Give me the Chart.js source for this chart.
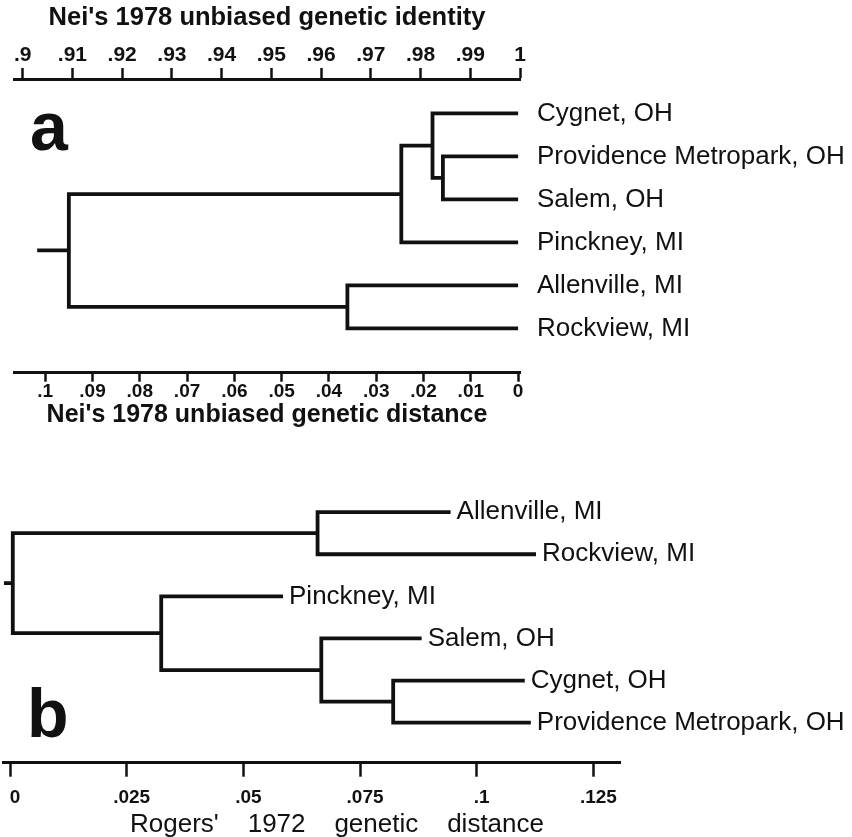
<!DOCTYPE html>
<html>
<head>
<meta charset="utf-8">
<script src="https://cdn.jsdelivr.net/npm/chart.js@4"></script>
<style>
  html, body { margin: 0; padding: 0; background: #fff; }
  #wrap { position: relative; width: 852px; height: 837px; }
  .panel { position: absolute; left: 0; width: 852px; }
  #panelA { top: 0; height: 440px; }
  #panelB { top: 470px; height: 367px; }
</style>
</head>
<body>
<div id="wrap">
  <div class="panel" id="panelA"><canvas id="chartA"></canvas></div>
  <div class="panel" id="panelB"><canvas id="chartB"></canvas></div>
</div>
<script>
// ---- panel a: Nei's 1978 unbiased distance (UPGMA) ----
const leavesA = ['Cygnet, OH', 'Providence Metropark, OH', 'Salem, OH', 'Pinckney, MI', 'Allenville, MI', 'Rockview, MI'];
const leafDistA = [0, 0, 0, 0, 0, 0];
// each join: two children (leaf index or earlier join name) and where they meet
const joinNamesA = ['PS', 'CPS', 'OHP', 'AR', 'root'];
const joinKidsA = [[1, 2], [0, 'PS'], ['CPS', 3], [4, 5], ['OHP', 'AR']];
const joinDistA = [0.0159, 0.0181, 0.0247, 0.0361, 0.0950];
const rootStubA = 0.1017;
const distTicksA = [0.1, 0.09, 0.08, 0.07, 0.06, 0.05, 0.04, 0.03, 0.02, 0.01, 0];
const distLabelsA = ['.1', '.09', '.08', '.07', '.06', '.05', '.04', '.03', '.02', '.01', '0'];
const identTicksA = [0.9, 0.91, 0.92, 0.93, 0.94, 0.95, 0.96, 0.97, 0.98, 0.99, 1];
const identLabelsA = ['.9', '.91', '.92', '.93', '.94', '.95', '.96', '.97', '.98', '.99', '1'];

// ---- panel b: Rogers' 1972 distance ----
const leavesB = ['Allenville, MI', 'Rockview, MI', 'Pinckney, MI', 'Salem, OH', 'Cygnet, OH', 'Providence Metropark, OH'];
const leafDistB = [0.0944, 0.1127, 0.0585, 0.0882, 0.1103, 0.1116];
const joinNamesB = ['CP', 'SCP', 'PSCP', 'AR', 'root'];
const joinKidsB = [[4, 5], [3, 'CP'], [2, 'SCP'], [0, 1], ['AR', 'PSCP']];
const joinDistB = [0.0821, 0.0667, 0.0324, 0.0659, 0.0006];
const rootStubB = -0.0013;
const rogersTicks = [0, 0.025, 0.05, 0.075, 0.1, 0.125];
const rogersLabels = ['0', '.025', '.05', '.075', '.1', '.125'];

const ink = '#111';
const FONT = "'Liberation Sans', Arial, Helvetica, sans-serif";

// turn the joins into one broken polyline (null y = gap)
function treePoints(kids, dists, names, leafX, stub) {
    const pos = {};
    const pts = [];
    const place = k => typeof k === 'number' ? { x: leafX[k], y: k } : pos[k];
    kids.forEach((pair, i) => {
        const a = place(pair[0]), b = place(pair[1]);
        const h = dists[i];
        pts.push({ x: a.x, y: a.y }, { x: h, y: a.y }, { x: h, y: b.y }, { x: b.x, y: b.y }, { x: h, y: null });
        pos[names[i]] = { x: h, y: (a.y + b.y) / 2 };
    });
    const r = pos[names[names.length - 1]];
    pts.push({ x: r.x, y: r.y }, { x: stub, y: r.y });
    return pts;
}

function fixedTicks(list) {
    return s => { s.ticks = list.map(v => ({ value: v })); };
}

// fixed axis height, and no extra side padding for edge labels
function fitHeight(h) {
    return s => { s.height = h; s.paddingLeft = 0; s.paddingRight = 0; };
}

function bigLetter(letter, x, y) {
    return {
        id: 'letter' + letter,
        afterDraw(chart) {
            const ctx = chart.ctx;
            ctx.save();
            ctx.fillStyle = ink;
            ctx.font = 'bold 68px ' + FONT;
            ctx.textBaseline = 'alphabetic';
            ctx.fillText(letter, x, y);
            ctx.restore();
        }
    };
}

const treeStyle = {
    borderColor: ink,
    borderWidth: 3.8,
    pointRadius: 0,
    showLine: true,
    tension: 0,
    borderJoinStyle: 'miter',
    borderCapStyle: 'butt',
    spanGaps: false
};

// ---------- chart a ----------
new Chart(document.getElementById('chartA').getContext('2d'), {
    type: 'scatter',
    data: {
        datasets: [Object.assign({
            data: treePoints(joinKidsA, joinDistA, joinNamesA, leafDistA, rootStubA)
        }, treeStyle)]
    },
    options: {
        responsive: true,
        maintainAspectRatio: false,
        animation: false,
        layout: { padding: { left: 14, right: 0, top: 0, bottom: 0 } },
        plugins: { legend: { display: false }, tooltip: { enabled: false } },
        scales: {
            x: {
                type: 'linear', position: 'bottom', reverse: true,
                min: -0.0004, max: 0.1066,
                afterBuildTicks: fixedTicks(distTicksA),
                afterFit: fitHeight(67.3),
                border: { display: true, width: 3, color: ink },
                grid: { drawOnChartArea: false, tickLength: 9, tickWidth: 2.5, tickColor: ink },
                ticks: {
                    autoSkip: false, maxRotation: 0, padding: -1, color: ink,
                    font: { family: FONT, size: 19, weight: 'bold' },
                    callback: (v, i) => distLabelsA[i]
                },
                title: {
                    display: true, text: "Nei's 1978 unbiased genetic distance", color: ink,
                    font: { family: FONT, size: 25, weight: 'bold' },
                    padding: { top: 0, bottom: 10 }
                }
            },
            xt: {
                type: 'linear', position: 'top',
                min: 0.89825, max: 1,
                afterBuildTicks: fixedTicks(identTicksA),
                afterFit: fitHeight(79),
                border: { display: true, width: 3, color: ink },
                grid: { drawOnChartArea: false, tickLength: 11, tickWidth: 2.5, tickColor: ink },
                ticks: {
                    autoSkip: false, maxRotation: 0, padding: 0, color: ink,
                    font: { family: FONT, size: 21, weight: 'bold' },
                    callback: (v, i) => identLabelsA[i]
                },
                title: {
                    display: true, text: "Nei's 1978 unbiased genetic identity", color: ink,
                    font: { family: FONT, size: 25.5, weight: 'bold' },
                    padding: { top: 3, bottom: 0 }
                }
            },
            y: {
                type: 'linear', position: 'right', reverse: true,
                min: -0.8, max: 6.03,
                afterBuildTicks: fixedTicks(leavesA.map((n, i) => i)),
                afterFit: s => { s.width = 332; },
                border: { display: false },
                grid: { display: false, drawTicks: false },
                ticks: {
                    autoSkip: false, padding: 17, color: ink,
                    font: { family: FONT, size: 26 },
                    callback: v => leavesA[v]
                }
            }
        }
    },
    plugins: [bigLetter('a', 30, 150)]
});

// ---------- chart b ----------
const leafLabelsB = {
    id: 'leafLabelsB',
    afterDatasetsDraw(chart) {
        const ctx = chart.ctx;
        const xs = chart.scales.x, ys = chart.scales.y;
        ctx.save();
        ctx.fillStyle = ink;
        ctx.font = '26px ' + FONT;
        ctx.textBaseline = 'middle';
        leavesB.forEach((name, i) => {
            ctx.fillText(name, xs.getPixelForValue(leafDistB[i]) + 6, ys.getPixelForValue(i));
        });
        ctx.restore();
    }
};

// axis caption of panel b sits left of centre, so draw it here
const rogersCaption = {
    id: 'rogersCaption',
    afterDraw(chart) {
        const ctx = chart.ctx;
        ctx.save();
        ctx.fillStyle = ink;
        ctx.font = '26px ' + FONT;
        ctx.textBaseline = 'middle';
        ctx.fillText("Rogers'    1972    genetic    distance", 130, 355);
        ctx.restore();
    }
};

new Chart(document.getElementById('chartB').getContext('2d'), {
    type: 'scatter',
    data: {
        datasets: [Object.assign({
            data: treePoints(joinKidsB, joinDistB, joinNamesB, leafDistB, rootStubB),
            clip: false
        }, treeStyle)]
    },
    options: {
        responsive: true,
        maintainAspectRatio: false,
        animation: false,
        layout: { padding: { left: 3, right: 232, top: 0, bottom: 0 } },
        plugins: { legend: { display: false }, tooltip: { enabled: false } },
        scales: {
            x: {
                type: 'linear', position: 'bottom',
                min: -0.0015, max: 0.1307,
                afterBuildTicks: fixedTicks(rogersTicks),
                afterFit: fitHeight(74.7),
                border: { display: true, width: 3, color: ink },
                grid: { drawOnChartArea: false, tickLength: 14.4, tickWidth: 2.5, tickColor: ink },
                ticks: {
                    autoSkip: false, maxRotation: 0, padding: 10, labelOffset: 5, color: ink,
                    font: { family: FONT, size: 19, weight: 'bold' },
                    callback: (v, i) => rogersLabels[i]
                }
            },
            y: {
                type: 'linear', display: false, reverse: true,
                min: -1.0, max: 5.94
            }
        }
    },
    plugins: [leafLabelsB, rogersCaption, bigLetter('b', 27, 267)]
});
</script>
</body>
</html>
